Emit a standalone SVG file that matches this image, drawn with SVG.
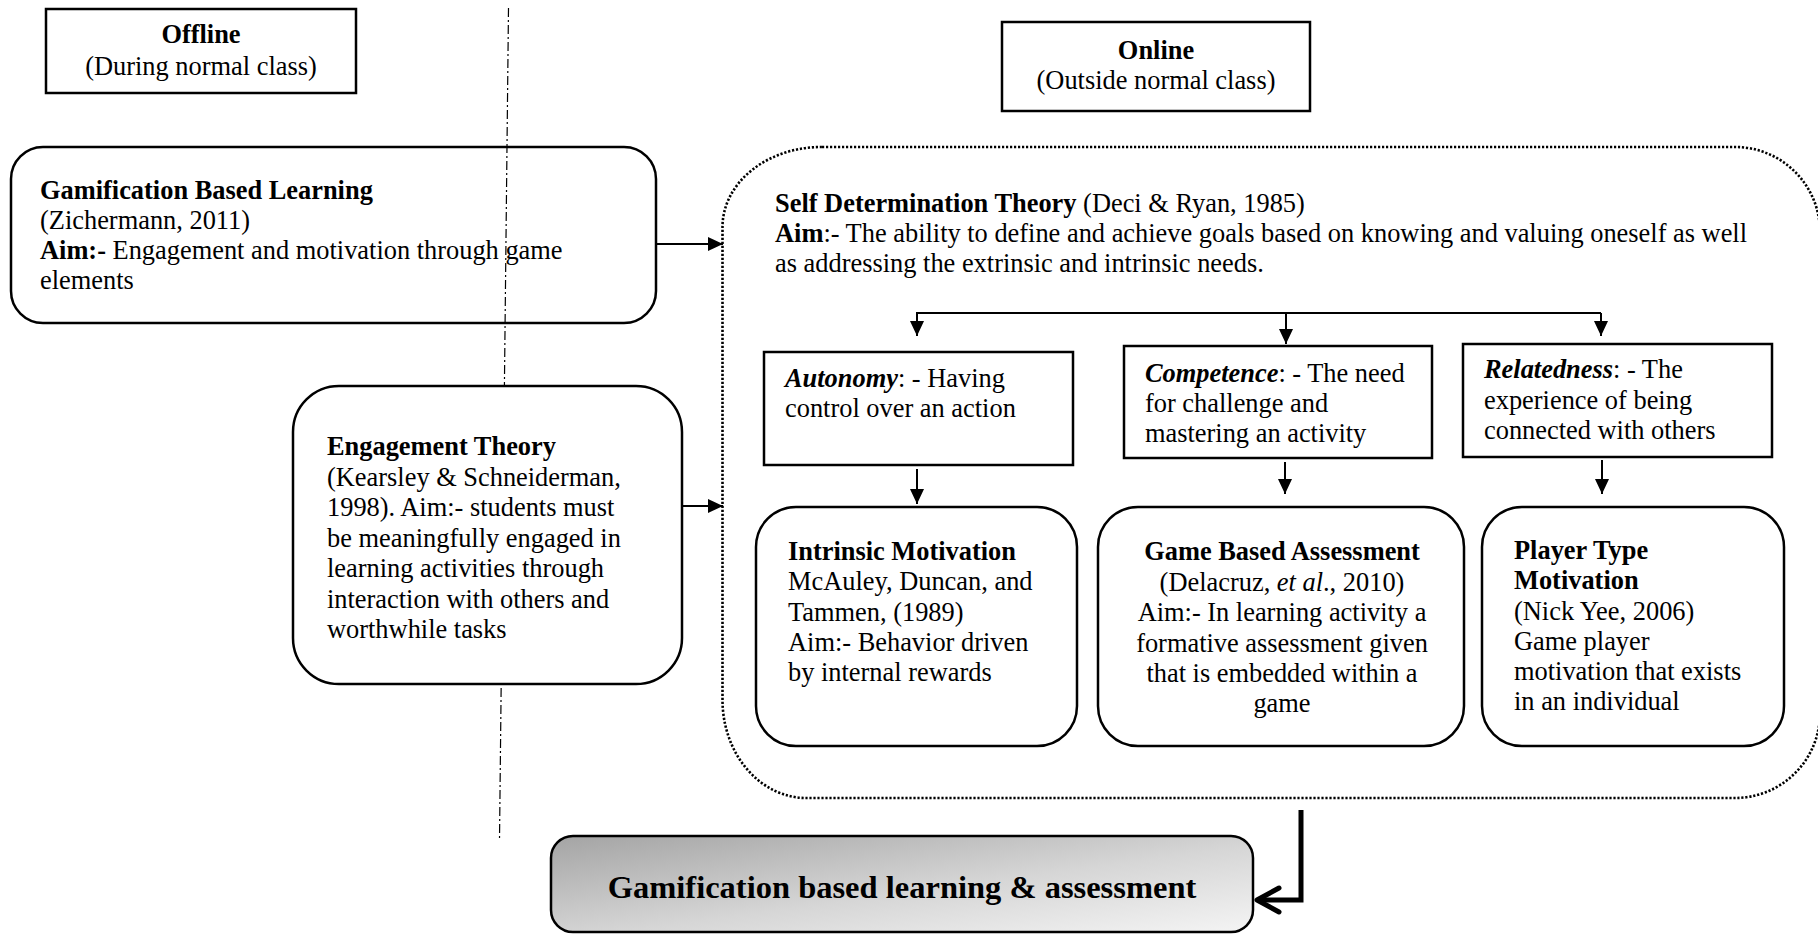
<svg xmlns="http://www.w3.org/2000/svg" width="1818" height="934" viewBox="0 0 1818 934">
<style>
.t{font-family:"Liberation Serif","Times New Roman",serif;font-size:26.4px;fill:#000}
.b{font-weight:bold}
.i{font-style:italic}
.m{text-anchor:middle}
.box{fill:none;stroke:#000;stroke-width:2.5}
.wbox{fill:#fff;stroke:#000;stroke-width:2.5}
.con{fill:none;stroke:#000;stroke-width:2}
</style>
<defs>
<marker id="ah" markerUnits="userSpaceOnUse" markerWidth="15" markerHeight="14" refX="15" refY="7" orient="auto">
<path d="M0,0 L15,7 L0,14 Z" fill="#000"/>
</marker>
<linearGradient id="gr" x1="0" y1="0" x2="1" y2="1">
<stop offset="0" stop-color="#a4a4a4"/>
<stop offset="0.55" stop-color="#d6d6d6"/>
<stop offset="1" stop-color="#f4f4f4"/>
</linearGradient>
</defs>
<rect width="1818" height="934" fill="#fff"/>

<g id="online-container">
<path d="M822,147 H1735 A85 85 0 0 1 1820 232 V713 A85 85 0 0 1 1735 798 H806 A84 98 0 0 1 722.5 700 V227 A99 80 0 0 1 822 147 Z" fill="none" stroke="#000" stroke-width="2.6" stroke-dasharray="2.2 1.8"/>
</g>

<g id="offline-label">
<rect class="box" x="46" y="9" width="310" height="84"/>
<text class="t b m" x="201" y="43">Offline</text>
<text class="t m" x="201" y="75">(During normal class)</text>
</g>

<g id="online-label">
<rect class="box" x="1002" y="22" width="308" height="89"/>
<text class="t b m" x="1156" y="59">Online</text>
<text class="t m" x="1156" y="89">(Outside normal class)</text>
</g>

<g id="gamification-learning">
<rect class="box" x="11" y="147" width="645" height="176" rx="32" ry="32"/>
<text class="t b" x="40" y="199">Gamification Based Learning</text>
<text class="t" x="40" y="229">(Zichermann, 2011)</text>
<text class="t" x="40" y="259"><tspan class="b">Aim:-</tspan> Engagement and motivation through game</text>
<text class="t" x="40" y="289">elements</text>
</g>

<g id="divider">
<line x1="508.5" y1="8" x2="499.5" y2="840" stroke="#000" stroke-width="1.2" stroke-dasharray="9 3 2 3"/>
</g>

<g id="engagement-theory">
<rect class="wbox" x="293" y="386" width="389" height="298" rx="46" ry="46"/>
<text class="t b" x="327" y="455">Engagement Theory</text>
<text class="t" x="327" y="485.5">(Kearsley &amp; Schneiderman,</text>
<text class="t" x="327" y="516">1998). Aim:- students must</text>
<text class="t" x="327" y="546.5">be meaningfully engaged in</text>
<text class="t" x="327" y="577">learning activities through</text>
<text class="t" x="327" y="607.5">interaction with others and</text>
<text class="t" x="327" y="638">worthwhile tasks</text>
</g>

<g id="sdt">
<text class="t" x="775" y="212"><tspan class="b">Self Determination Theory</tspan> (Deci &amp; Ryan, 1985)</text>
<text class="t" x="775" y="242"><tspan class="b">Aim</tspan>:- The ability to define and achieve goals based on knowing and valuing oneself as well</text>
<text class="t" x="775" y="272">as addressing the extrinsic and intrinsic needs.</text>
</g>

<g id="autonomy">
<rect class="box" x="764" y="352" width="309" height="113"/>
<text class="t" x="785" y="387"><tspan class="b i">Autonomy</tspan>: - Having</text>
<text class="t" x="785" y="417">control over an action</text>
</g>

<g id="competence">
<rect class="box" x="1124" y="346" width="308" height="112"/>
<text class="t" x="1145" y="382"><tspan class="b i">Competence</tspan>: - The need</text>
<text class="t" x="1145" y="412">for challenge and</text>
<text class="t" x="1145" y="442">mastering an activity</text>
</g>

<g id="relatedness">
<rect class="box" x="1463" y="344" width="309" height="113"/>
<text class="t" x="1484" y="378"><tspan class="b i">Relatedness</tspan>: - The</text>
<text class="t" x="1484" y="409">experience of being</text>
<text class="t" x="1484" y="439">connected with others</text>
</g>

<g id="intrinsic-motivation">
<rect class="wbox" x="756" y="507" width="321" height="239" rx="40" ry="40"/>
<text class="t b" x="788" y="560">Intrinsic Motivation</text>
<text class="t" x="788" y="590">McAuley, Duncan, and</text>
<text class="t" x="788" y="620.5">Tammen, (1989)</text>
<text class="t" x="788" y="650.5">Aim:- Behavior driven</text>
<text class="t" x="788" y="681">by internal rewards</text>
</g>

<g id="game-based-assessment">
<rect class="wbox" x="1098" y="507" width="366" height="239" rx="40" ry="40"/>
<text class="t b m" x="1282" y="560">Game Based Assessment</text>
<text class="t m" x="1282" y="591">(Delacruz, <tspan class="i">et al</tspan>., 2010)</text>
<text class="t m" x="1282" y="621">Aim:- In learning activity a</text>
<text class="t m" x="1282" y="651.5">formative assessment given</text>
<text class="t m" x="1282" y="682">that is embedded within a</text>
<text class="t m" x="1282" y="712">game</text>
</g>

<g id="player-type-motivation">
<rect class="wbox" x="1482" y="507" width="302" height="239" rx="40" ry="40"/>
<text class="t b" x="1514" y="559">Player Type</text>
<text class="t b" x="1514" y="589">Motivation</text>
<text class="t" x="1514" y="619.5">(Nick Yee, 2006)</text>
<text class="t" x="1514" y="650">Game player</text>
<text class="t" x="1514" y="680">motivation that exists</text>
<text class="t" x="1514" y="710">in an individual</text>
</g>

<g id="result">
<rect x="551" y="836" width="702" height="96" rx="22" ry="22" fill="url(#gr)" stroke="#000" stroke-width="2.5"/>
<text class="t b m" x="902" y="898" style="font-size:32.5px">Gamification based learning &amp; assessment</text>
</g>

<g id="connectors">
<line class="con" x1="656" y1="244" x2="723" y2="244" marker-end="url(#ah)"/>
<line class="con" x1="682" y1="506" x2="723" y2="506" marker-end="url(#ah)"/>
<line class="con" x1="916" y1="313" x2="1601" y2="313"/>
<line class="con" x1="917" y1="313" x2="917" y2="336" marker-end="url(#ah)"/>
<line class="con" x1="1286" y1="313" x2="1286" y2="344" marker-end="url(#ah)"/>
<line class="con" x1="1601" y1="313" x2="1601" y2="336" marker-end="url(#ah)"/>
<line class="con" x1="917" y1="469" x2="917" y2="504" marker-end="url(#ah)"/>
<line class="con" x1="1285" y1="462" x2="1285" y2="494" marker-end="url(#ah)"/>
<line class="con" x1="1602" y1="460" x2="1602" y2="494" marker-end="url(#ah)"/>
<path d="M1301,810 V900 H1258" fill="none" stroke="#000" stroke-width="5"/>
<path d="M1279,888 L1257,900 L1279,912" fill="none" stroke="#000" stroke-width="5" stroke-linecap="round" stroke-linejoin="round"/>
</g>
</svg>
